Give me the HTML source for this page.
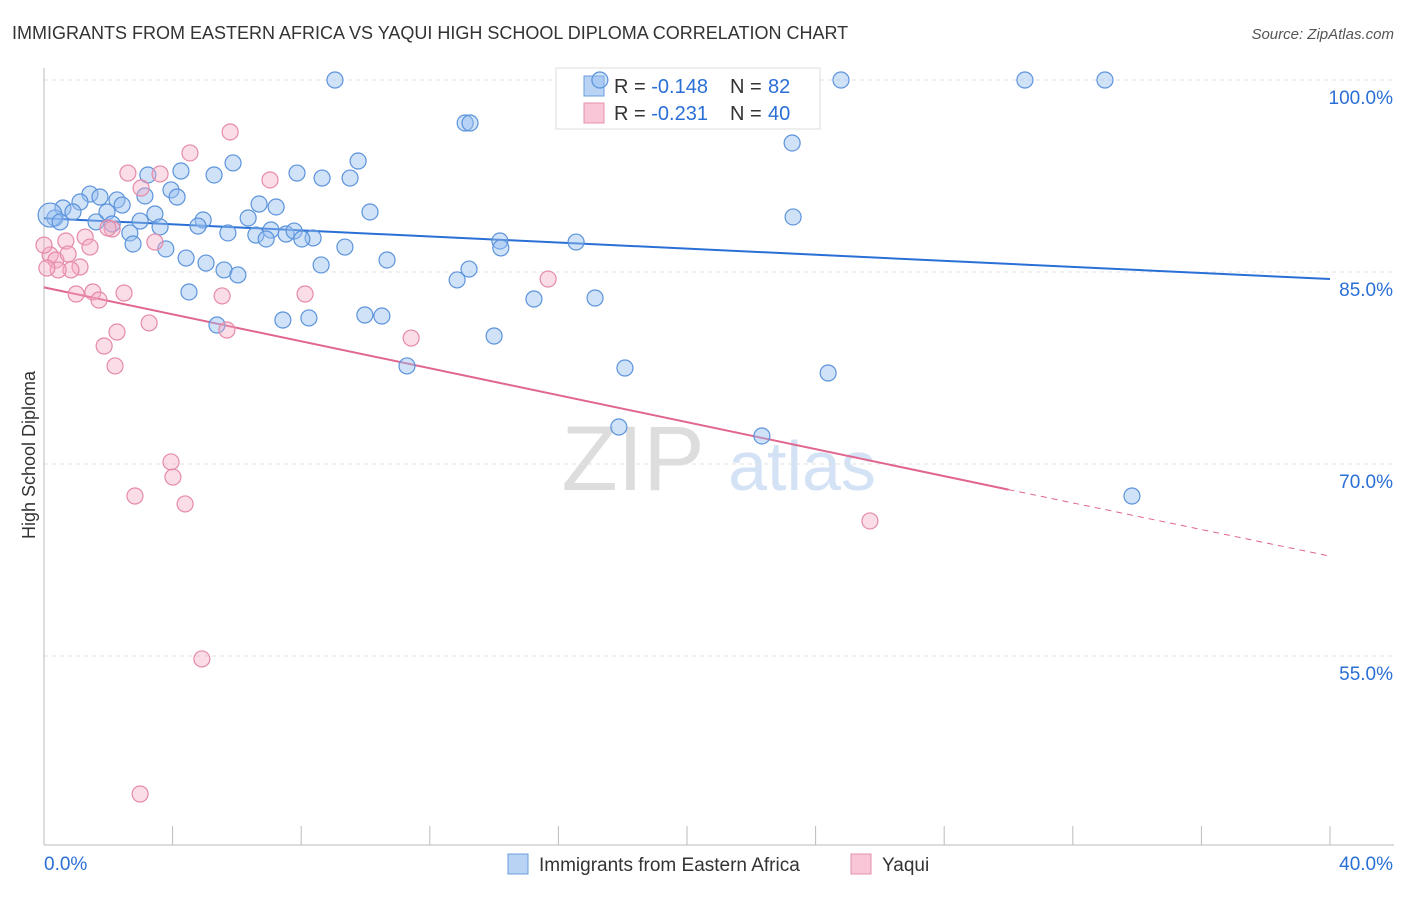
<!DOCTYPE html>
<html><head><meta charset="utf-8"><style>
body{margin:0;background:#fff;font-family:"Liberation Sans",sans-serif;}
svg text{font-family:"Liberation Sans",sans-serif;}
</style></head><body>
<svg id="chart" width="1406" height="892">
<text x="12" y="39" font-size="18" fill="#333">IMMIGRANTS FROM EASTERN AFRICA VS YAQUI HIGH SCHOOL DIPLOMA CORRELATION CHART</text>
<text x="1394" y="39" font-size="15" fill="#555" text-anchor="end" font-style="italic">Source: ZipAtlas.com</text>
<text x="35" y="455" font-size="18" fill="#333" text-anchor="middle" transform="rotate(-90 35 455)">High School Diploma</text>
<g><text x="633" y="490" font-size="92" fill="#ddd" text-anchor="middle" font-family="Liberation Serif">ZIP</text><text x="802" y="490" font-size="70" fill="#d3e2f5" text-anchor="middle">atlas</text></g>
<g id="grid"></g><g id="axes"></g>
<g>
<rect x="556" y="68" width="264" height="61" fill="#fff" stroke="#ddd"/>
<rect x="584" y="76" width="20" height="20" fill="#b8d3f4" stroke="#6b9ddf"/>
<text x="614" y="93" font-size="20" fill="#333">R = <tspan fill="#2a6fd6">-0.148</tspan><tspan x="730">N = </tspan><tspan x="768" fill="#2a6fd6">82</tspan></text>
<rect x="584" y="103" width="20" height="20" fill="#f8c6d6" stroke="#e690ad"/>
<text x="614" y="120" font-size="20" fill="#333">R = <tspan fill="#2a6fd6">-0.231</tspan><tspan x="730">N = </tspan><tspan x="768" fill="#2a6fd6">40</tspan></text>
</g>
<g id="trends"></g><g id="points"></g>
<g>
<rect x="508" y="854" width="20" height="20" fill="#b8d3f4" stroke="#6b9ddf"/>
<text x="539" y="871" font-size="19" fill="#333">Immigrants from Eastern Africa</text>
<rect x="851" y="854" width="20" height="20" fill="#f8c6d6" stroke="#e690ad"/>
<text x="882" y="871" font-size="19" fill="#333">Yaqui</text>
</g>
</svg>
<script>
const yTicks=[100,85,70,55];
const yTickLabels=["100.0%","85.0%","70.0%","55.0%"];
const xTicks=[0,4,8,12,16,20,24,28,32,36,40];
const xEndLabels=["0.0%","40.0%"];
const blueX=[9.05,17.29,24.79,30.51,33.0,13.1,13.25,23.27,5.88,9.77,4.26,3.23,5.29,7.87,8.65,9.52,3.95,4.14,1.43,1.74,2.27,3.14,1.12,2.43,0.59,0.9,1.96,3.45,6.69,7.22,10.14,6.35,4.95,2.99,4.79,2.12,1.62,3.61,0.34,0.19,0.5,5.72,6.59,7.06,7.53,7.78,8.37,8.02,6.91,2.67,2.77,9.36,14.18,14.21,16.55,23.3,3.79,4.42,5.04,5.6,6.03,8.62,10.67,13.22,12.85,4.51,15.24,17.14,5.38,7.43,8.24,9.98,10.51,14.0,11.29,18.07,24.39,17.88,22.33,33.84];
const blueY=[100,100,100,100,100,96.64,96.64,95.08,93.52,93.67,92.89,92.58,92.58,92.73,92.34,92.34,91.41,90.86,91.09,90.86,90.63,90.94,90.47,90.23,90.0,89.69,89.69,89.53,90.31,90.08,89.69,89.22,89.06,88.98,88.59,88.75,88.91,88.52,89.22,89.45,88.91,88.05,87.89,88.28,87.97,88.2,87.66,87.58,87.58,88.05,87.19,86.95,87.42,86.88,87.34,89.3,86.8,86.09,85.7,85.16,84.77,85.55,85.94,85.23,84.38,83.44,82.89,82.97,80.86,81.25,81.41,81.64,81.56,80.0,77.66,77.5,77.11,72.89,72.19,67.5];
const pinkX=[5.79,4.54,2.61,3.61,7.03,3.02,0.19,0.68,2.12,1.28,1.99,3.45,1.43,0.37,0.75,1.12,0.84,0.44,0.09,1.0,1.52,1.71,2.49,5.54,8.12,15.68,3.27,2.27,5.69,11.42,1.87,2.21,3.95,4.01,2.83,4.39,25.69,4.91,2.99,0];
const pinkY=[95.94,94.3,92.73,92.66,92.19,91.56,86.33,87.42,88.36,87.73,88.44,87.34,86.95,85.94,86.41,85.39,85.16,85.16,85.31,83.28,83.44,82.81,83.36,83.13,83.28,84.45,81.02,80.31,80.47,79.84,79.22,77.66,70.16,68.98,67.5,66.88,65.55,54.77,44.22,87.1];
const blueTrendX=[0,40];
const blueTrendY=[89.2,84.45];
const pinkTrendX=[0,30,40];
const pinkTrendY=[83.8,68.0,62.8];

const NS="http://www.w3.org/2000/svg";
const sx=v=>44+v/40*1286;
const sy=v=>80+(100-v)*12.8;
function mk(tag,parent,attrs){const e=document.createElementNS(NS,tag);for(const k in attrs)e.setAttribute(k,attrs[k]);document.getElementById(parent).appendChild(e);return e;}
yTicks.forEach((t,i)=>{
  const l=mk('line','grid',{x1:44,x2:1394,y1:sy(t),y2:sy(t),stroke:'#e2e2e2','stroke-dasharray':'4,4'});
  
  
  const tx=mk('text','grid',{x:1393,y:sy(t)+24,'font-size':19,fill:'#2a6fd6','text-anchor':'end'});
  tx.textContent=yTickLabels[i];
  
  
});
const ax=mk('line','axes',{x1:44,x2:44,y1:68,y2:845,stroke:'#bbb'});


const bx=mk('line','axes',{x1:44,x2:1394,y1:845,y2:845,stroke:'#bbb'});


xTicks.forEach(t=>{const l=mk('line','axes',{x1:sx(t),x2:sx(t),y1:826,y2:845,stroke:'#bbb'});
  
  });
const xl0=mk('text','axes',{x:44,y:870,'font-size':19,fill:'#2a6fd6'});xl0.textContent=xEndLabels[0];


const xl1=mk('text','axes',{x:1393,y:870,'font-size':19,fill:'#2a6fd6','text-anchor':'end'});xl1.textContent=xEndLabels[1];


blueX.forEach((x,i)=>{const c=mk('circle','points',{cx:sx(x),cy:sy(blueY[i]),r:(i==39?12:8),fill:'rgba(150,190,240,0.45)',stroke:'#5b93db','stroke-width':1.2});
  
  });
pinkX.forEach((x,i)=>{const c=mk('circle','points',{cx:sx(x),cy:sy(pinkY[i]),r:8,fill:'rgba(245,170,195,0.4)',stroke:'#e58aa8','stroke-width':1.2});
  
  });
const bt=mk('line','trends',{x1:sx(blueTrendX[0]),y1:sy(blueTrendY[0]),x2:sx(blueTrendX[1]),y2:sy(blueTrendY[1]),stroke:'#2a6fd6','stroke-width':2});


const pt=mk('line','trends',{x1:sx(pinkTrendX[0]),y1:sy(pinkTrendY[0]),x2:sx(pinkTrendX[1]),y2:sy(pinkTrendY[1]),stroke:'#e0658f','stroke-width':2});


const pd=mk('line','trends',{x1:sx(pinkTrendX[1]),y1:sy(pinkTrendY[1]),x2:sx(pinkTrendX[2]),y2:sy(pinkTrendY[2]),stroke:'#e0658f','stroke-width':1,'stroke-dasharray':'6,5'});


</script>
</body></html>
